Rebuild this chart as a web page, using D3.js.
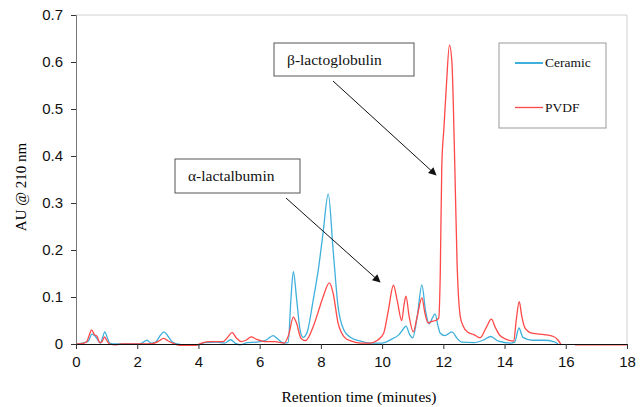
<!DOCTYPE html>
<html>
<head>
<meta charset="utf-8">
<script src="https://cdn.jsdelivr.net/npm/d3@7"></script>
<style>
  body { margin: 0; background: #fff; }
  svg { display: block; }
</style>
</head>
<body>
<script>
// [time (min), AU]
var ceramic = [
  [0,0],[0.2,0.002],[0.4,0.006],[0.52,0.021],[0.6,0.018],[0.7,0.01],[0.8,0.002],[0.87,0.014],
  [0.94,0.026],[1.02,0.014],[1.1,0.002],[1.3,0],[2.0,0],[2.15,0.002],[2.32,0.008],[2.45,0.002],
  [2.6,0.004],[2.75,0.018],[2.87,0.026],[3.0,0.017],[3.15,0.004],[3.3,0],[3.6,-0.002],[4.0,-0.002],
  [4.2,0.003],[4.6,0.004],[4.85,0.002],[5.05,0.009],[5.2,0.002],[5.35,-0.002],[5.6,0.003],
  [5.9,0.004],[6.2,0.008],[6.44,0.018],[6.6,0.01],[6.8,0.002],[6.93,0.003],[7.02,0.094],
  [7.1,0.154],[7.21,0.094],[7.32,0.03],[7.42,0.014],[7.55,0.025],[7.75,0.094],[7.92,0.16],
  [8.07,0.236],[8.24,0.319],[8.4,0.2],[8.56,0.08],[8.75,0.03],[8.95,0.015],[9.3,0.006],
  [9.6,0.002],[10.0,0.002],[10.3,0.01],[10.55,0.02],[10.65,0.028],[10.78,0.038],[10.9,0.02],
  [11.0,0.013],[11.15,0.06],[11.3,0.126],[11.42,0.07],[11.54,0.043],[11.64,0.055],[11.73,0.064],
  [11.82,0.04],[11.9,0.023],[12.05,0.018],[12.28,0.026],[12.45,0.012],[12.6,0.004],[13.0,0.003],
  [13.3,0.008],[13.55,0.016],[13.8,0.006],[14.2,0.002],[14.33,0.004],[14.47,0.034],[14.6,0.014],
  [14.9,0.008],[15.3,0.008],[15.6,0.005],[15.75,0]
];

var pvdf = [
  [0,0],[0.2,0.001],[0.35,0.005],[0.44,0.02],[0.51,0.03],[0.6,0.02],[0.68,0.017],[0.78,0.003],
  [0.85,0.005],[0.93,0.015],[1.0,0.008],[1.1,0],[1.3,-0.002],[1.5,0],[2.2,0],[2.5,0.001],
  [2.7,0.006],[2.86,0.012],[3.0,0.007],[3.2,0.001],[3.4,-0.003],[3.9,-0.003],[4.1,0.002],
  [4.4,0.005],[4.8,0.005],[4.95,0.014],[5.1,0.024],[5.25,0.012],[5.4,0.005],[5.55,0.008],
  [5.72,0.015],[5.9,0.01],[6.2,0.005],[6.5,0.005],[6.8,0.002],[6.95,0.02],[7.1,0.057],
  [7.2,0.045],[7.35,0.012],[7.5,0.007],[7.75,0.037],[7.92,0.07],[8.07,0.1],[8.28,0.13],
  [8.4,0.108],[8.56,0.045],[8.79,0.013],[9.0,0.006],[9.3,0.002],[9.6,0.002],[9.85,0.008],
  [10.05,0.023],[10.2,0.07],[10.37,0.125],[10.5,0.09],[10.64,0.05],[10.72,0.085],[10.78,0.102],
  [10.88,0.06],[11.02,0.026],[11.15,0.06],[11.3,0.098],[11.4,0.065],[11.5,0.045],[11.62,0.048],
  [11.75,0.05],[11.85,0.055],[11.9,0.15],[11.95,0.38],[12.02,0.46],[12.1,0.55],[12.2,0.636],
  [12.28,0.6],[12.36,0.42],[12.45,0.17],[12.55,0.06],[12.65,0.038],[12.8,0.025],[13.0,0.02],
  [13.2,0.013],[13.4,0.035],[13.57,0.053],[13.7,0.035],[13.85,0.018],[14.1,0.009],[14.3,0.006],
  [14.38,0.05],[14.48,0.09],[14.56,0.06],[14.66,0.035],[14.9,0.023],[15.3,0.02],[15.6,0.016],
  [15.75,0.008],[15.85,-0.002],[16.1,null],[16.3,-0.002],[18,-0.002]
];

var xTicks = [0, 2, 4, 6, 8, 10, 12, 14, 16, 18];
var yTicks = [0, 0.1, 0.2, 0.3, 0.4, 0.5, 0.6, 0.7];

var seriesNames = ["Ceramic", "PVDF"];
var seriesColors = ["#3fb0dc", "#ff4848"];

var width = 644,
    height = 407;

var svg = d3.select("body").append("svg")
    .attr("width", width)
    .attr("height", height);

var x = d3.scaleLinear().domain([0, 18]).range([76, 627]);
var y = d3.scaleLinear().domain([0, 0.7]).range([344, 15]);

// light frame on top / right
svg.append("line")
    .attr("x1", x(0)).attr("x2", x(18))
    .attr("y1", y(0.7)).attr("y2", y(0.7))
    .attr("stroke", "#d0d0d0");
svg.append("line")
    .attr("x1", x(18)).attr("x2", x(18))
    .attr("y1", y(0.7)).attr("y2", y(0))
    .attr("stroke", "#d0d0d0");

var line = d3.line()
    .defined(function(d) { return d[1] !== null; })
    .x(function(d) { return x(d[0]); })
    .y(function(d) { return y(d[1]); })
    .curve(d3.curveMonotoneX);

svg.append("path")
    .datum(ceramic)
    .attr("fill", "none")
    .attr("stroke", seriesColors[0])
    .attr("stroke-width", 1.3)
    .attr("d", line);

svg.append("path")
    .datum(pvdf)
    .attr("fill", "none")
    .attr("stroke", seriesColors[1])
    .attr("stroke-width", 1.3)
    .attr("d", line);

// axes
var yAxis = svg.append("g")
    .attr("transform", "translate(" + x(0) + ",0)")
    .call(d3.axisLeft(y).tickValues(yTicks).tickSize(5).tickPadding(8)
      .tickFormat(function(d) { return d === 0 ? "0" : d3.format(".1f")(d); }));
yAxis.select(".domain").attr("stroke", "#777");
yAxis.selectAll(".tick line").attr("stroke", "#333");

var xAxis = svg.append("g")
    .attr("transform", "translate(0," + y(0) + ")")
    .call(d3.axisBottom(x).tickValues(xTicks).tickSize(5).tickPadding(7));
xAxis.select(".domain").attr("stroke", "#111");
xAxis.selectAll(".tick line").attr("stroke", "#333");

svg.selectAll(".tick text")
    .attr("font-family", "Liberation Sans, Arial, sans-serif")
    .attr("font-size", 15)
    .attr("fill", "#111");

// axis titles
svg.append("text")
    .attr("transform", "translate(26,187) rotate(-90)")
    .attr("text-anchor", "middle")
    .attr("font-family", "Liberation Serif, Times New Roman, serif")
    .attr("font-size", 15)
    .text("AU @ 210 nm");

svg.append("text")
    .attr("x", 359)
    .attr("y", 402)
    .attr("text-anchor", "middle")
    .attr("font-family", "Liberation Serif, Times New Roman, serif")
    .attr("font-size", 15.5)
    .text("Retention time (minutes)");

// arrow marker
svg.append("defs").append("marker")
    .attr("id", "arrow")
    .attr("viewBox", "0 0 10 10")
    .attr("refX", 9).attr("refY", 5)
    .attr("markerWidth", 9).attr("markerHeight", 8)
    .attr("orient", "auto")
    .append("path")
    .attr("d", "M0,0 L10,5 L0,10 z")
    .attr("fill", "#111");

// annotation boxes
var notes = [
  {label: "\u03b2-lactoglobulin", box: [274, 43, 140, 33], from: [333, 81], to: [436, 175]},
  {label: "\u03b1-lactalbumin", box: [175, 159, 125, 34], from: [286, 198], to: [380, 282]}
];

var note = svg.selectAll("g.note")
    .data(notes)
    .enter().append("g")
    .attr("class", "note");

note.append("rect")
    .attr("x", function(d) { return d.box[0]; })
    .attr("y", function(d) { return d.box[1]; })
    .attr("width", function(d) { return d.box[2]; })
    .attr("height", function(d) { return d.box[3]; })
    .attr("fill", "#fff")
    .attr("stroke", "#555");

note.append("text")
    .attr("x", function(d) { return d.box[0] + 13; })
    .attr("y", function(d) { return d.box[1] + 22; })
    .attr("font-family", "Liberation Serif, Times New Roman, serif")
    .attr("font-size", 15.5)
    .attr("fill", "#111")
    .text(function(d) { return d.label; });

note.append("line")
    .attr("x1", function(d) { return d.from[0]; })
    .attr("y1", function(d) { return d.from[1]; })
    .attr("x2", function(d) { return d.to[0]; })
    .attr("y2", function(d) { return d.to[1]; })
    .attr("stroke", "#111")
    .attr("stroke-width", 1)
    .attr("marker-end", "url(#arrow)");

// legend
var legend = svg.append("g");
legend.append("rect")
    .attr("x", 499).attr("y", 43)
    .attr("width", 107).attr("height", 85)
    .attr("fill", "#fff")
    .attr("stroke", "#999");

var item = legend.selectAll("g")
    .data(seriesNames)
    .enter().append("g")
    .attr("transform", function(d, i) { return "translate(515," + (63 + i * 44.5) + ")"; });

item.append("line")
    .attr("x1", 0).attr("x2", 28)
    .attr("stroke", function(d, i) { return seriesColors[i]; })
    .attr("stroke-width", function(d, i) { return i === 0 ? 2 : 1.3; });

item.append("text")
    .attr("x", 30)
    .attr("y", 4)
    .attr("font-family", "Liberation Serif, Times New Roman, serif")
    .attr("font-size", 13.5)
    .attr("fill", "#111")
    .text(function(d) { return d; });
</script>
</body>
</html>
